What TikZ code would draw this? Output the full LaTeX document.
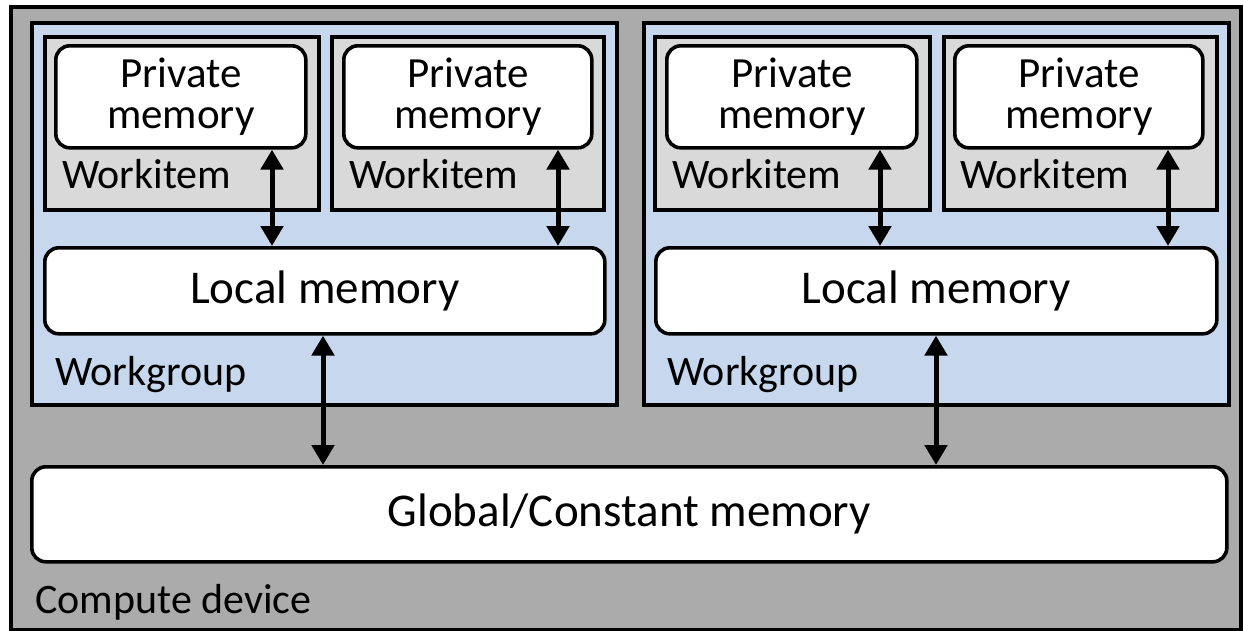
\documentclass[tikz,border=0pt]{standalone}
\usepackage{fontspec}
\setmainfont{Carlito}
\usetikzlibrary{arrows.meta}
\definecolor{devgray}{RGB}{171,171,171}
\definecolor{wgblue}{RGB}{198,215,238}
\definecolor{wigray}{RGB}{217,217,217}
\tikzset{
  box/.style={draw,line width=3.6pt,anchor=north west,inner sep=0pt},
  mem/.style={box,fill=white,rounded corners=14pt,align=center},
  lbl/.style={anchor=base west,inner sep=0pt,font=\fontsize{42}{42}\selectfont},
  link/.style={{Triangle[width=22pt,length=20pt]}-{Triangle[width=22pt,length=20pt]},line width=5pt}
}
\begin{document}
\begin{tikzpicture}[x=1pt,y=-1pt]
  \path[use as bounding box] (0,0) rectangle (1244,630);
  \node[box,fill=devgray,minimum width=1230pt,minimum height=623pt] (dev) at (9,5) {};
  \node[box,fill=wgblue,minimum width=585pt,minimum height=382pt] (wg1) at (30,21) {};
  \node[box,fill=wgblue,minimum width=585pt,minimum height=382pt] (wg2) at (642,21) {};
  \node[box,fill=wigray,minimum width=274pt,minimum height=173pt] (wi1) at (43,35) {};
  \node[box,fill=wigray,minimum width=272pt,minimum height=173pt] (wi2) at (330,35) {};
  \node[box,fill=wigray,minimum width=275pt,minimum height=173pt] (wi3) at (653,35) {};
  \node[box,fill=wigray,minimum width=273pt,minimum height=173pt] (wi4) at (942,35) {};
  % private memories
  \node[mem,minimum width=250pt,minimum height=102pt,font=\fontsize{43}{41}\selectfont] (pm1) at (54,44) {Private\\memory};
  \node[mem,minimum width=248pt,minimum height=102pt,font=\fontsize{43}{41}\selectfont] (pm2) at (342,44) {Private\\memory};
  \node[mem,minimum width=250pt,minimum height=102pt,font=\fontsize{43}{41}\selectfont] (pm3) at (665,44) {Private\\memory};
  \node[mem,minimum width=248pt,minimum height=102pt,font=\fontsize{43}{41}\selectfont] (pm4) at (953,44) {Private\\memory};
  % local and global memory
  \node[mem,minimum width=560pt,minimum height=86pt,font=\fontsize{47}{47}\selectfont] (lm1) at (43,246) {Local memory};
  \node[mem,minimum width=561pt,minimum height=86pt,font=\fontsize{47}{47}\selectfont] (lm2) at (654,246) {Local memory};
  \node[mem,minimum width=1195pt,minimum height=95pt,font=\fontsize{47}{47}\selectfont] (gm) at (30,465) {Global/Constant memory};
  % labels
  \node[lbl] (wil1) at (62,188) {Workitem};
  \node[lbl] (wil2) at (349,188) {Workitem};
  \node[lbl] (wil3) at (672,188) {Workitem};
  \node[lbl] (wil4) at (960,188) {Workitem};
  \node[lbl] (wgl1) at (55,385) {Workgroup};
  \node[lbl] (wgl2) at (667,385) {Workgroup};
  \node[lbl] (devl) at (35,613) {Compute device};
  % links
  \coordinate (a1) at (272,0);
  \coordinate (a2) at (558,0);
  \coordinate (a3) at (880,0);
  \coordinate (a4) at (1168,0);
  \coordinate (b1) at (323,0);
  \coordinate (b2) at (936,0);
  \draw[link] (pm1.south -| a1) -- (lm1.north -| a1);
  \draw[link] (pm2.south -| a2) -- (lm1.north -| a2);
  \draw[link] (pm3.south -| a3) -- (lm2.north -| a3);
  \draw[link] (pm4.south -| a4) -- (lm2.north -| a4);
  \draw[link] (lm1.south -| b1) -- (gm.north -| b1);
  \draw[link] (lm2.south -| b2) -- (gm.north -| b2);
\end{tikzpicture}
\end{document}
